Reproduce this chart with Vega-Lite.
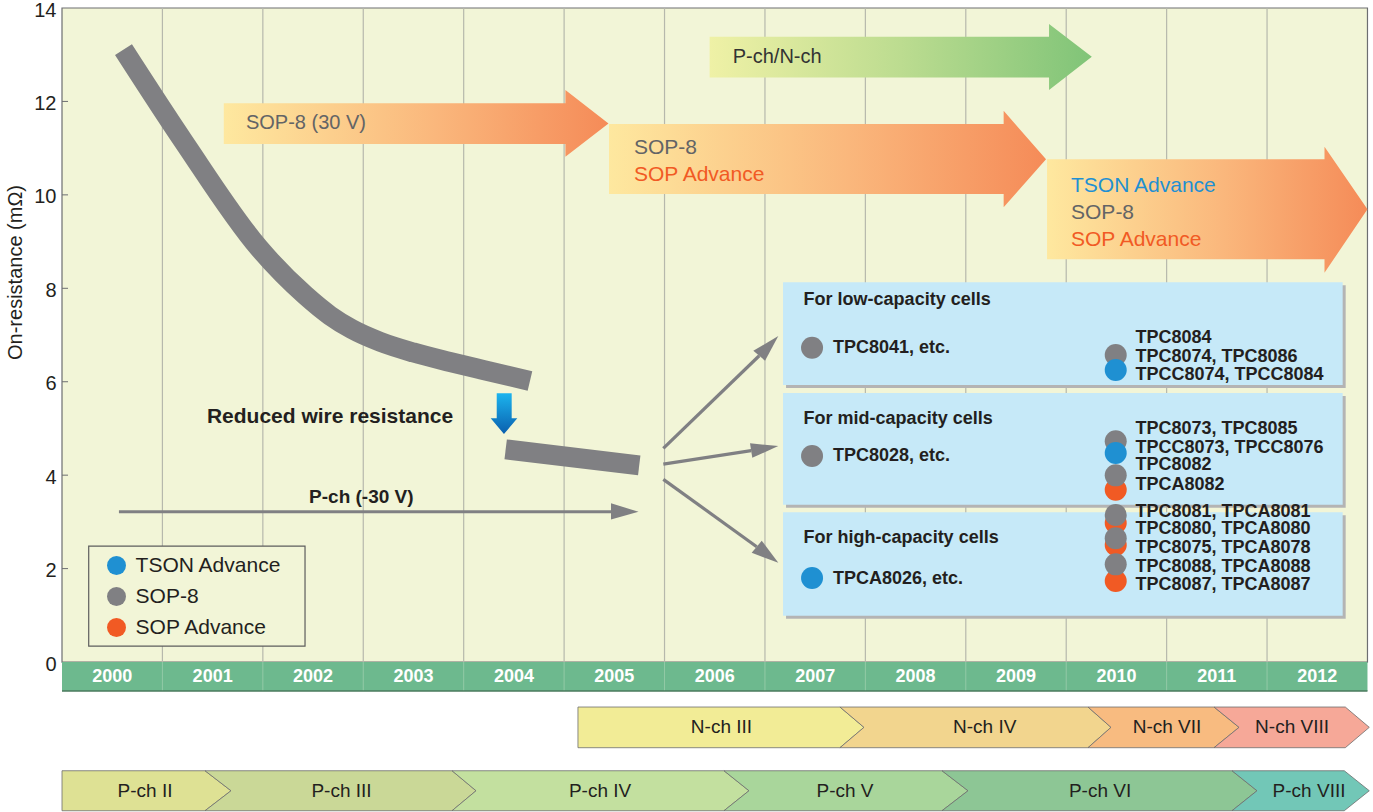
{
"$schema":"https://vega.github.io/schema/vega-lite/v6.json",
"width":1311,"height":804,"autosize":"none",
"padding":{"left":62,"top":8,"right":0,"bottom":0},
"background":"#ffffff",
"config":{"view":{"stroke":null},"font":"Liberation Sans","text":{"font":"Liberation Sans"}},
"encoding":{
 "x":{"field":"x","type":"quantitative","scale":{"domain":[1999.5,2012.555],"nice":false,"zero":false},"axis":null},
 "y":{"field":"y","type":"quantitative","scale":{"domain":[-3.21,14],"nice":false,"zero":false},
  "axis":{"title":"On-resistance (mΩ)","values":[0,2,4,6,8,10,12,14],"domain":false,"grid":false,"ticks":false,
   "labelFontSize":20,"labelFont":"Liberation Sans","labelColor":"#231f20","labelPadding":6,"labelFlush":false,"labelOverlap":false,"labelBaseline":"middle","labelOffset":2,
   "titleFontSize":20,"titleFont":"Liberation Sans","titleFontWeight":"normal","titleColor":"#231f20","titleX":-37,"titleY":264,"titleAngle":-90,"titleBaseline":"bottom","titleAlign":"center"}}
},
"datasets":{
 "frame":[{"x":1999.5,"x2":2012.5,"y":0,"y2":14}],
 "yearBand":[{"x":1999.5,"x2":2012.5,"y":0,"y2":-0.62}],
 "yearBottom":[{"x":1999.5,"x2":2012.5,"y":-0.62}],
 "yTicks":[{"x":1999.5,"x2":1999.56,"y":2},{"x":1999.5,"x2":1999.56,"y":4},{"x":1999.5,"x2":1999.56,"y":6},{"x":1999.5,"x2":1999.56,"y":8},{"x":1999.5,"x2":1999.56,"y":10},{"x":1999.5,"x2":1999.56,"y":12}],
 "grid":[{"x":2000.5,"y":0,"y2":14},{"x":2001.5,"y":0,"y2":14},{"x":2002.5,"y":0,"y2":14},{"x":2003.5,"y":0,"y2":14},{"x":2004.5,"y":0,"y2":14},{"x":2005.5,"y":0,"y2":14},{"x":2006.5,"y":0,"y2":14},{"x":2007.5,"y":0,"y2":14},{"x":2008.5,"y":0,"y2":14},{"x":2009.5,"y":0,"y2":14},{"x":2010.5,"y":0,"y2":14},{"x":2011.5,"y":0,"y2":14}],
 "yearSep":[{"x":2000.5,"y":0,"y2":-0.62},{"x":2001.5,"y":0,"y2":-0.62},{"x":2002.5,"y":0,"y2":-0.62},{"x":2003.5,"y":0,"y2":-0.62},{"x":2004.5,"y":0,"y2":-0.62},{"x":2005.5,"y":0,"y2":-0.62},{"x":2006.5,"y":0,"y2":-0.62},{"x":2007.5,"y":0,"y2":-0.62},{"x":2008.5,"y":0,"y2":-0.62},{"x":2009.5,"y":0,"y2":-0.62},{"x":2010.5,"y":0,"y2":-0.62},{"x":2011.5,"y":0,"y2":-0.62}],
 "years":[{"x":2000,"y":-0.31},{"x":2001,"y":-0.31},{"x":2002,"y":-0.31},{"x":2003,"y":-0.31},{"x":2004,"y":-0.31},{"x":2005,"y":-0.31},{"x":2006,"y":-0.31},{"x":2007,"y":-0.31},{"x":2008,"y":-0.31},{"x":2009,"y":-0.31},{"x":2010,"y":-0.31},{"x":2011,"y":-0.31},{"x":2012,"y":-0.31}],
 "curve1":[{"x":2000.112,"y":13.110},{"x":2000.715,"y":11.130},{"x":2001.462,"y":8.861},{"x":2001.920,"y":7.855},{"x":2002.169,"y":7.417},{"x":2002.385,"y":7.128},{"x":2002.667,"y":6.856},{"x":2002.998,"y":6.627},{"x":2003.364,"y":6.424},{"x":2003.695,"y":6.252},{"x":2004.160,"y":6.015}],
 "curve2":[{"x":2003.918,"y":4.553},{"x":2005.248,"y":4.211}],
 "bigArrows":[
  {"id":"a1","i":0,"x":2001.111,"y":11.959},{"id":"a1","i":1,"x":2004.513,"y":11.959},{"id":"a1","i":2,"x":2004.513,"y":12.243},{"id":"a1","i":3,"x":2004.942,"y":11.530},{"id":"a1","i":4,"x":2004.513,"y":10.816},{"id":"a1","i":5,"x":2004.513,"y":11.088},{"id":"a1","i":6,"x":2001.111,"y":11.088},
  {"id":"a2","i":0,"x":2004.947,"y":11.515},{"id":"a2","i":1,"x":2008.877,"y":11.515},{"id":"a2","i":2,"x":2008.877,"y":11.800},{"id":"a2","i":3,"x":2009.299,"y":10.760},{"id":"a2","i":4,"x":2008.877,"y":9.733},{"id":"a2","i":5,"x":2008.877,"y":10.017},{"id":"a2","i":6,"x":2004.947,"y":10.017},
  {"id":"a3","i":0,"x":2009.309,"y":10.760},{"id":"a3","i":1,"x":2012.072,"y":10.760},{"id":"a3","i":2,"x":2012.072,"y":11.030},{"id":"a3","i":3,"x":2012.500,"y":9.690},{"id":"a3","i":4,"x":2012.072,"y":8.333},{"id":"a3","i":5,"x":2012.072,"y":8.620},{"id":"a3","i":6,"x":2009.309,"y":8.620}],
 "greenArrow":[{"id":"g","i":0,"x":2005.949,"y":13.384},{"id":"g","i":1,"x":2009.329,"y":13.384},{"id":"g","i":2,"x":2009.329,"y":13.656},{"id":"g","i":3,"x":2009.755,"y":12.956},{"id":"g","i":4,"x":2009.329,"y":12.243},{"id":"g","i":5,"x":2009.329,"y":12.515},{"id":"g","i":6,"x":2005.949,"y":12.515}],
 "grayTexts":[{"t":"SOP-8","x":2005.196,"y":11.008},{"t":"SOP-8","x":2009.548,"y":9.617}],
 "grayTexts20":[{"t":"SOP-8 (30 V)","x":2001.332,"y":11.53}],
 "darkTexts20":[{"t":"P-ch/N-ch","x":2006.179,"y":12.956}],
 "orangeTexts":[{"t":"SOP Advance","x":2005.196,"y":10.424},{"t":"SOP Advance","x":2009.548,"y":9.033}],
 "blueTexts":[{"t":"TSON Advance","x":2009.548,"y":10.195}],
 "noteBig":[{"t":"Reduced wire resistance","x":2002.169,"y":5.251}],
 "noteSmall":[{"t":"P-ch (-30 V)","x":2002.481,"y":3.538}],
 "legendBox":[{"x":1999.766,"x2":2001.92,"y":0.342,"y2":2.483}],
 "thin":[{"id":"p","i":0,"x":2000.067,"y":3.217},{"id":"p","i":1,"x":2004.967,"y":3.217},
  {"id":"b1","i":0,"x":2005.488,"y":4.574},{"id":"b1","i":1,"x":2006.443,"y":6.556},
  {"id":"b2","i":0,"x":2005.488,"y":4.238},{"id":"b2","i":1,"x":2006.363,"y":4.527},
  {"id":"b3","i":0,"x":2005.488,"y":3.911},{"id":"b3","i":1,"x":2006.418,"y":2.468}],
 "heads":[{"id":"p","i":0,"x":2004.967,"y":3.397},{"id":"p","i":1,"x":2005.241,"y":3.217},{"id":"p","i":2,"x":2004.967,"y":3.050},
  {"id":"b1","i":0,"x":2006.384,"y":6.663},{"id":"b1","i":1,"x":2006.633,"y":6.978},{"id":"b1","i":2,"x":2006.501,"y":6.449},
  {"id":"b2","i":0,"x":2006.351,"y":4.681},{"id":"b2","i":1,"x":2006.633,"y":4.623},{"id":"b2","i":2,"x":2006.374,"y":4.373},
  {"id":"b3","i":0,"x":2006.468,"y":2.596},{"id":"b3","i":1,"x":2006.633,"y":2.125},{"id":"b3","i":2,"x":2006.368,"y":2.339}],
 "downArrow":[{"id":"d","i":0,"x":2003.829,"y":5.751},{"id":"d","i":1,"x":2003.978,"y":5.751},{"id":"d","i":2,"x":2003.978,"y":5.216},{"id":"d","i":3,"x":2004.034,"y":5.216},{"id":"d","i":4,"x":2003.901,"y":4.880},{"id":"d","i":5,"x":2003.769,"y":5.216},{"id":"d","i":6,"x":2003.829,"y":5.216}],
 "shadows":[{"x":2006.71,"x2":2012.283,"y":5.865,"y2":8.063},{"x":2006.71,"x2":2012.283,"y":3.303,"y2":5.694},{"x":2006.71,"x2":2012.283,"y":0.927,"y2":3.140}],
 "boxes":[{"x":2006.68,"x2":2012.253,"y":5.929,"y2":8.127},{"x":2006.68,"x2":2012.253,"y":3.367,"y2":5.758},{"x":2006.68,"x2":2012.253,"y":0.991,"y2":3.204}],
 "boxTitles":[{"t":"For low-capacity cells","x":2006.885,"y":7.748},{"t":"For mid-capacity cells","x":2006.885,"y":5.208},{"t":"For high-capacity cells","x":2006.885,"y":2.648}],
 "cells":[
  {"pkg":"SOP Advance","x":2009.993,"y":3.688},{"pkg":"SOP Advance","x":2009.993,"y":2.975},{"pkg":"SOP Advance","x":2009.993,"y":2.504},{"pkg":"SOP Advance","x":2009.993,"y":1.734},
  {"pkg":"SOP-8","x":2006.969,"y":6.727},{"pkg":"SOP-8","x":2009.993,"y":6.571},{"pkg":"SOP-8","x":2006.969,"y":4.409},{"pkg":"SOP-8","x":2009.993,"y":4.724},{"pkg":"SOP-8","x":2009.993,"y":3.996},{"pkg":"SOP-8","x":2009.993,"y":3.146},{"pkg":"SOP-8","x":2009.993,"y":2.648},{"pkg":"SOP-8","x":2009.993,"y":2.091},
  {"pkg":"TSON Advance","x":2009.993,"y":6.250},{"pkg":"TSON Advance","x":2009.993,"y":4.474},{"pkg":"TSON Advance","x":2006.969,"y":1.798}],
 "cellLabels":[
  {"t":"TPC8041, etc.","x":2007.178,"y":6.721},{"t":"TPC8028, etc.","x":2007.178,"y":4.403},{"t":"TPCA8026, etc.","x":2007.178,"y":1.777},
  {"t":"TPC8084","x":2010.190,"y":6.929},{"t":"TPC8074, TPC8086","x":2010.190,"y":6.522},{"t":"TPCC8074, TPCC8084","x":2010.190,"y":6.143},
  {"t":"TPC8073, TPC8085","x":2010.190,"y":4.994},{"t":"TPCC8073, TPCC8076","x":2010.190,"y":4.580},{"t":"TPC8082","x":2010.190,"y":4.210},{"t":"TPCA8082","x":2010.190,"y":3.795},
  {"t":"TPC8081, TPCA8081","x":2010.190,"y":3.217},{"t":"TPC8080, TPCA8080","x":2010.190,"y":2.847},{"t":"TPC8075, TPCA8078","x":2010.190,"y":2.434},{"t":"TPC8088, TPCA8088","x":2010.190,"y":2.040},{"t":"TPC8087, TPCA8087","x":2010.190,"y":1.648}],
 "bands":[
  {"seg":"N3","i":0,"x":2004.638,"y":-0.963},{"seg":"N3","i":1,"x":2007.247,"y":-0.963},{"seg":"N3","i":2,"x":2007.486,"y":-1.398},{"seg":"N3","i":3,"x":2007.247,"y":-1.834},{"seg":"N3","i":4,"x":2004.638,"y":-1.834},{"seg":"N3","i":5,"x":2004.638,"y":-0.963},
  {"seg":"N4","i":0,"x":2007.247,"y":-0.963},{"seg":"N4","i":1,"x":2009.717,"y":-0.963},{"seg":"N4","i":2,"x":2009.946,"y":-1.398},{"seg":"N4","i":3,"x":2009.717,"y":-1.834},{"seg":"N4","i":4,"x":2007.247,"y":-1.834},{"seg":"N4","i":5,"x":2007.486,"y":-1.398},{"seg":"N4","i":6,"x":2007.247,"y":-0.963},
  {"seg":"N7","i":0,"x":2009.717,"y":-0.963},{"seg":"N7","i":1,"x":2010.972,"y":-0.963},{"seg":"N7","i":2,"x":2011.221,"y":-1.398},{"seg":"N7","i":3,"x":2010.972,"y":-1.834},{"seg":"N7","i":4,"x":2009.717,"y":-1.834},{"seg":"N7","i":5,"x":2009.946,"y":-1.398},{"seg":"N7","i":6,"x":2009.717,"y":-0.963},
  {"seg":"N8","i":0,"x":2010.972,"y":-0.963},{"seg":"N8","i":1,"x":2012.279,"y":-0.963},{"seg":"N8","i":2,"x":2012.518,"y":-1.398},{"seg":"N8","i":3,"x":2012.279,"y":-1.834},{"seg":"N8","i":4,"x":2010.972,"y":-1.834},{"seg":"N8","i":5,"x":2011.221,"y":-1.398},{"seg":"N8","i":6,"x":2010.972,"y":-0.963},
  {"seg":"P2","i":0,"x":1999.5,"y":-2.327},{"seg":"P2","i":1,"x":2000.924,"y":-2.327},{"seg":"P2","i":2,"x":2001.183,"y":-2.755},{"seg":"P2","i":3,"x":2000.924,"y":-3.183},{"seg":"P2","i":4,"x":1999.5,"y":-3.183},{"seg":"P2","i":5,"x":1999.5,"y":-2.327},
  {"seg":"P3","i":0,"x":2000.924,"y":-2.327},{"seg":"P3","i":1,"x":2003.384,"y":-2.327},{"seg":"P3","i":2,"x":2003.623,"y":-2.755},{"seg":"P3","i":3,"x":2003.384,"y":-3.183},{"seg":"P3","i":4,"x":2000.924,"y":-3.183},{"seg":"P3","i":5,"x":2001.183,"y":-2.755},{"seg":"P3","i":6,"x":2000.924,"y":-2.327},
  {"seg":"P4","i":0,"x":2003.384,"y":-2.327},{"seg":"P4","i":1,"x":2006.092,"y":-2.327},{"seg":"P4","i":2,"x":2006.341,"y":-2.755},{"seg":"P4","i":3,"x":2006.092,"y":-3.183},{"seg":"P4","i":4,"x":2003.384,"y":-3.183},{"seg":"P4","i":5,"x":2003.623,"y":-2.755},{"seg":"P4","i":6,"x":2003.384,"y":-2.327},
  {"seg":"P5","i":0,"x":2006.092,"y":-2.327},{"seg":"P5","i":1,"x":2008.263,"y":-2.327},{"seg":"P5","i":2,"x":2008.522,"y":-2.755},{"seg":"P5","i":3,"x":2008.263,"y":-3.183},{"seg":"P5","i":4,"x":2006.092,"y":-3.183},{"seg":"P5","i":5,"x":2006.341,"y":-2.755},{"seg":"P5","i":6,"x":2006.092,"y":-2.327},
  {"seg":"P6","i":0,"x":2008.263,"y":-2.327},{"seg":"P6","i":1,"x":2011.151,"y":-2.327},{"seg":"P6","i":2,"x":2011.400,"y":-2.755},{"seg":"P6","i":3,"x":2011.151,"y":-3.183},{"seg":"P6","i":4,"x":2008.263,"y":-3.183},{"seg":"P6","i":5,"x":2008.522,"y":-2.755},{"seg":"P6","i":6,"x":2008.263,"y":-2.327},
  {"seg":"P8","i":0,"x":2011.151,"y":-2.327},{"seg":"P8","i":1,"x":2012.269,"y":-2.327},{"seg":"P8","i":2,"x":2012.518,"y":-2.755},{"seg":"P8","i":3,"x":2012.269,"y":-3.183},{"seg":"P8","i":4,"x":2011.151,"y":-3.183},{"seg":"P8","i":5,"x":2011.400,"y":-2.755},{"seg":"P8","i":6,"x":2011.151,"y":-2.327}],
 "bandLabels":[{"t":"N-ch III","x":2006.067,"y":-1.398},{"t":"N-ch IV","x":2008.688,"y":-1.398},{"t":"N-ch VII","x":2010.504,"y":-1.398},{"t":"N-ch VIII","x":2011.749,"y":-1.398},
  {"t":"P-ch II","x":2000.327,"y":-2.755},{"t":"P-ch III","x":2002.283,"y":-2.755},{"t":"P-ch IV","x":2004.858,"y":-2.755},{"t":"P-ch V","x":2007.297,"y":-2.755},{"t":"P-ch VI","x":2009.837,"y":-2.755},{"t":"P-ch VIII","x":2011.918,"y":-2.755}]
},
"layer":[
 {"data":{"name":"frame"},"mark":{"type":"rect","fill":"#f2f5d7","stroke":"#6d6e71","strokeWidth":1.2},"encoding":{"x2":{"field":"x2"},"y2":{"field":"y2"}}},
 {"data":{"name":"grid"},"mark":{"type":"rule","stroke":"#b6b8ac","strokeWidth":1.2},"encoding":{"y2":{"field":"y2"}}},
 {"data":{"name":"yTicks"},"mark":{"type":"rule","stroke":"#6d6e71","strokeWidth":1},"encoding":{"x2":{"field":"x2"}}},
 {"data":{"name":"yearBand"},"mark":{"type":"rect","fill":"#6db98e"},"encoding":{"x2":{"field":"x2"},"y2":{"field":"y2"}}},
 {"data":{"name":"yearSep"},"mark":{"type":"rule","stroke":"#92caa6","strokeWidth":1},"encoding":{"y2":{"field":"y2"}}},
 {"data":{"name":"yearBottom"},"mark":{"type":"rule","stroke":"#4a7a5c","strokeWidth":1.5},"encoding":{"x2":{"field":"x2"}}},
 {"data":{"name":"years"},"mark":{"type":"text","fill":"#ffffff","fontWeight":"bold","fontSize":18,"align":"center","baseline":"middle"},
  "encoding":{"text":{"field":"x","type":"quantitative","format":"d"}}},
 {"data":{"name":"curve1"},"mark":{"type":"line","stroke":"#808083","strokeWidth":20,"strokeCap":"butt","interpolate":"monotone"}},
 {"data":{"name":"curve2"},"mark":{"type":"line","stroke":"#808083","strokeWidth":20,"strokeCap":"butt"}},
 {"data":{"name":"bigArrows"},"mark":{"type":"line","strokeOpacity":0,"strokeWidth":0,
   "fill":{"gradient":"linear","x1":0,"y1":0,"x2":1,"y2":0,"stops":[{"offset":0,"color":"#fee89f"},{"offset":0.55,"color":"#fab77c"},{"offset":1,"color":"#f58b58"}]}},
  "encoding":{"detail":{"field":"id"},"order":{"field":"i","type":"quantitative"}}},
 {"data":{"name":"greenArrow"},"mark":{"type":"line","strokeOpacity":0,"strokeWidth":0,
   "fill":{"gradient":"linear","x1":0,"y1":0,"x2":1,"y2":0,"stops":[{"offset":0,"color":"#eff1a6"},{"offset":0.5,"color":"#bcdc90"},{"offset":1,"color":"#80c478"}]}},
  "encoding":{"detail":{"field":"id"},"order":{"field":"i","type":"quantitative"}}},
 {"data":{"name":"grayTexts20"},"mark":{"type":"text","fill":"#636466","fontSize":20,"align":"left","baseline":"middle"},"encoding":{"text":{"field":"t"}}},
 {"data":{"name":"darkTexts20"},"mark":{"type":"text","fill":"#333333","fontSize":20,"align":"left","baseline":"middle"},"encoding":{"text":{"field":"t"}}},
 {"data":{"name":"grayTexts"},"mark":{"type":"text","fill":"#636466","fontSize":21,"align":"left","baseline":"middle"},"encoding":{"text":{"field":"t"}}},
 {"data":{"name":"orangeTexts"},"mark":{"type":"text","fill":"#f15a24","fontSize":21,"align":"left","baseline":"middle"},"encoding":{"text":{"field":"t"}}},
 {"data":{"name":"blueTexts"},"mark":{"type":"text","fill":"#1f90d2","fontSize":21,"align":"left","baseline":"middle"},"encoding":{"text":{"field":"t"}}},
 {"data":{"name":"thin"},"mark":{"type":"line","stroke":"#808083","strokeWidth":3.2},
  "encoding":{"detail":{"field":"id"},"order":{"field":"i","type":"quantitative"}}},
 {"data":{"name":"heads"},"mark":{"type":"line","strokeOpacity":0,"strokeWidth":0,"fill":"#808083"},
  "encoding":{"detail":{"field":"id"},"order":{"field":"i","type":"quantitative"}}},
 {"data":{"name":"downArrow"},"mark":{"type":"line","strokeOpacity":0,"strokeWidth":0,
   "fill":{"gradient":"linear","x1":0,"y1":0,"x2":0,"y2":1,"stops":[{"offset":0,"color":"#1cb4ee"},{"offset":1,"color":"#0a5fae"}]}},
  "encoding":{"detail":{"field":"id"},"order":{"field":"i","type":"quantitative"}}},
 {"data":{"name":"noteBig"},"mark":{"type":"text","fill":"#231f20","fontSize":21,"fontWeight":"bold","align":"center","baseline":"middle"},"encoding":{"text":{"field":"t"}}},
 {"data":{"name":"noteSmall"},"mark":{"type":"text","fill":"#231f20","fontSize":19,"fontWeight":"bold","align":"center","baseline":"middle"},"encoding":{"text":{"field":"t"}}},
 {"data":{"name":"legendBox"},"mark":{"type":"rect","fill":"#f2f5d7","stroke":"#5d5d5d","strokeWidth":1.2},"encoding":{"x2":{"field":"x2"},"y2":{"field":"y2"}}},
 {"data":{"name":"shadows"},"mark":{"type":"rect","fill":"#b4b4b4"},"encoding":{"x2":{"field":"x2"},"y2":{"field":"y2"}}},
 {"data":{"name":"boxes"},"mark":{"type":"rect","fill":"#c6e9f8"},"encoding":{"x2":{"field":"x2"},"y2":{"field":"y2"}}},
 {"data":{"name":"boxTitles"},"mark":{"type":"text","fill":"#231f20","fontSize":18,"fontWeight":"bold","align":"left","baseline":"middle"},"encoding":{"text":{"field":"t"}}},
 {"data":{"name":"cells"},"mark":{"type":"point","shape":"circle","filled":true,"opacity":1,"size":484},
  "encoding":{"color":{"field":"pkg","type":"nominal","scale":{"domain":["TSON Advance","SOP-8","SOP Advance"],"range":["#1f90d2","#808083","#f15a24"]},
   "legend":{"orient":"none","legendX":44,"legendY":547,"title":null,"symbolType":"circle","symbolSize":361,"symbolStrokeWidth":0,"symbolOpacity":1,
    "labelFontSize":21,"labelFont":"Liberation Sans","labelColor":"#231f20","rowPadding":9,"labelOffset":8.6,"padding":0}}}},
 {"data":{"name":"cellLabels"},"mark":{"type":"text","fill":"#231f20","fontSize":18,"fontWeight":"bold","align":"left","baseline":"middle"},"encoding":{"text":{"field":"t"}}},
 {"data":{"name":"bands"},"mark":{"type":"line","stroke":"#6d6d6d","strokeWidth":0.8},
  "encoding":{"detail":{"field":"seg"},"order":{"field":"i","type":"quantitative"},
   "fill":{"field":"seg","type":"nominal","legend":null,"scale":{"domain":["N3","N4","N7","N8","P2","P3","P4","P5","P6","P8"],"range":["#f2ec96","#f2d58e","#f8bb80","#f6a898","#dee194","#cad897","#c3e09f","#a9d69b","#8dc695","#72c7b7"]}}}},
 {"data":{"name":"bandLabels"},"mark":{"type":"text","fill":"#231f20","fontSize":19,"align":"center","baseline":"middle"},"encoding":{"text":{"field":"t"}}}
]
}
